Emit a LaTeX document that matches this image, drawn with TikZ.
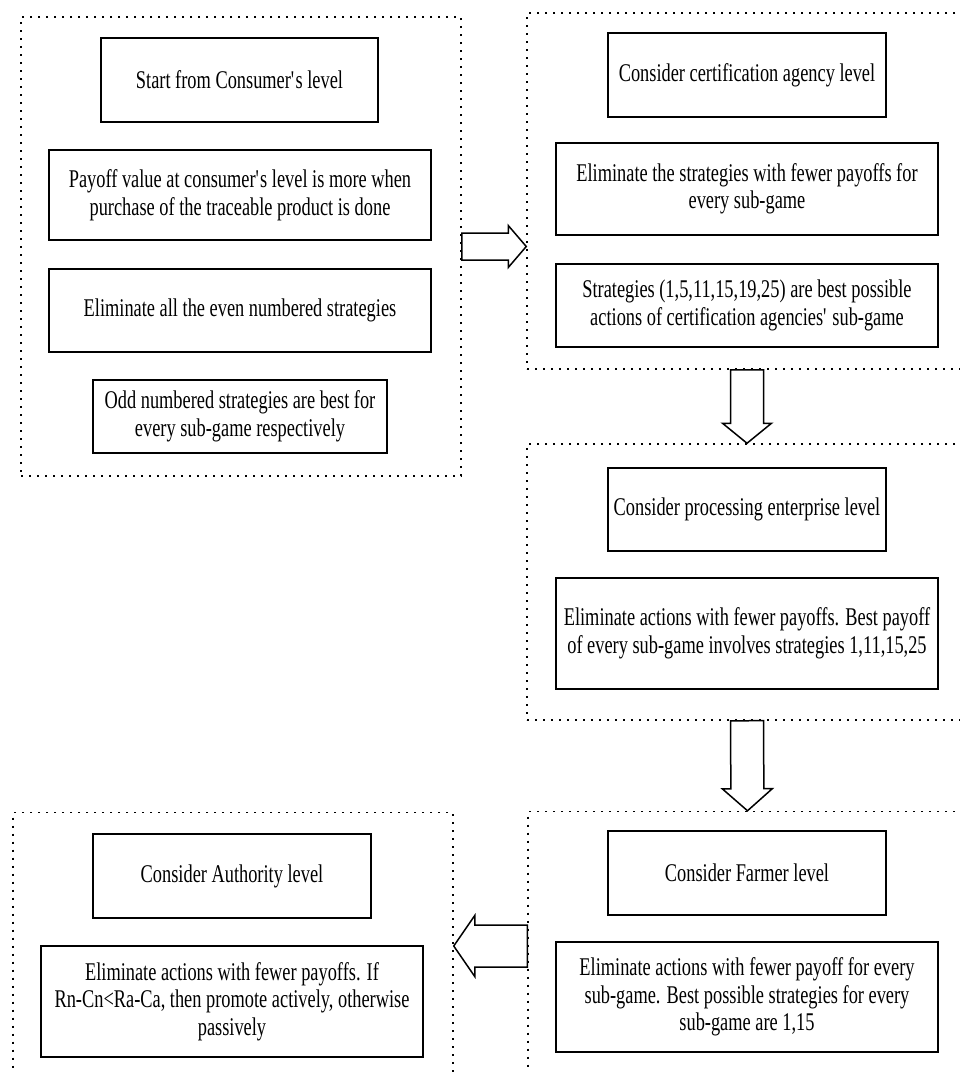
\documentclass[tikz,border=0pt]{standalone}
\usepackage{fontspec}
\setmainfont[FakeStretch=0.72]{Liberation Serif}
\usetikzlibrary{calc}

\begin{document}
\begin{tikzpicture}[x=1pt, y=-1pt,
    frame/.style={draw, line width=1.5pt, dash pattern=on 2pt off 6pt, inner sep=0pt},
    stepbox/.style={draw, line width=1.3pt, align=center, inner sep=0pt,
        font=\fontsize{25.5}{27.5}\selectfont},
    blockarrow/.style n args={3}{draw, fill=white, line width=1.5pt, line join=miter,
        to path={let \p1=(\tikztostart), \p2=(\tikztotarget), \p3=($(\p2)!#3!(\p1)$) in
            ($(\p1)!#1!90:(\p2)$) -- ($(\p3)!#1!-90:(\p1)$) -- ($(\p3)!#2!-90:(\p1)$)
            -- (\p2) -- ($(\p3)!#2!90:(\p1)$) -- ($(\p3)!#1!90:(\p1)$)
            -- ($(\p1)!#1!-90:(\p2)$) -- cycle}}]
    \clip (0,0) rectangle (960,1072);

    \node[frame, minimum width=440pt, minimum height=459pt] (cons) at (241,246.5) {};
    \node[frame, minimum width=440pt, minimum height=356pt] (cert) at (747,191) {};
    \node[frame, minimum width=440pt, minimum height=276pt] (proc) at (747,582) {};
    \node[frame, minimum width=439pt, minimum height=269pt] (farm) at (747.5,946) {};
    \node[frame, minimum width=440pt, minimum height=267pt] (auth) at (233,946) {};

    \node[stepbox, minimum width=277pt, minimum height=84pt] (cons1) at (239.5,80)
        {Start from Consumer\textquotesingle s level};
    \node[stepbox, minimum width=382pt, minimum height=90pt] (cons2) at (240,195)
        {Payoff value at consumer\textquotesingle s level is more when\\purchase of the traceable product is done};
    \node[stepbox, minimum width=382pt, minimum height=83pt] (cons3) at (240,310.5)
        {Eliminate all the even numbered strategies};
    \node[stepbox, minimum width=294pt, minimum height=73pt] (cons4) at (240,416.5)
        {Odd numbered strategies are best for\\every sub-game respectively};

    \node[stepbox, minimum width=278pt, minimum height=84pt] (cert1) at (747,75)
        {Consider certification agency level};
    \node[stepbox, minimum width=382pt, minimum height=92pt] (cert2) at (747,189)
        {Eliminate the strategies with fewer payoffs for\\every sub-game};
    \node[stepbox, minimum width=382pt, minimum height=83pt] (cert3) at (747,305.5)
        {Strategies (1,5,11,15,19,25) are best possible\\actions of certification agencies\textquotesingle{} sub-game};

    \node[stepbox, minimum width=278pt, minimum height=83pt] (proc1) at (747,509.5)
        {Consider processing enterprise level};
    \node[stepbox, minimum width=382pt, minimum height=111pt] (proc2) at (747,633.5)
        {Eliminate actions with fewer payoffs. Best payoff\\of every sub-game involves strategies 1,11,15,25};

    \node[stepbox, minimum width=278pt, minimum height=84pt] (farm1) at (747,873)
        {Consider Farmer level};
    \node[stepbox, minimum width=382pt, minimum height=110pt] (farm2) at (747,997)
        {Eliminate actions with fewer payoff for every\\sub-game. Best possible strategies for every\\sub-game are 1,15};

    \node[stepbox, minimum width=278pt, minimum height=84pt] (auth1) at (232,876)
        {Consider Authority level};
    \node[stepbox, minimum width=382pt, minimum height=111pt] (auth2) at (232,1001.5)
        {Eliminate actions with fewer payoffs. If\\Rn-Cn<Ra-Ca, then promote actively, otherwise\\passively};

    \draw[blockarrow={13.5pt}{21pt}{18pt}] (cons.east) to (cons.east -| cert.west);
    \draw[blockarrow={16.5pt}{24.5pt}{20pt}] (cert.south) to (proc.north);
    \draw[blockarrow={16.5pt}{25pt}{22pt}] (proc.south) to (farm.north);
    \draw[blockarrow={21pt}{30.5pt}{21pt}] (farm.west) to (farm.west -| auth.east);
\end{tikzpicture}
\end{document}
